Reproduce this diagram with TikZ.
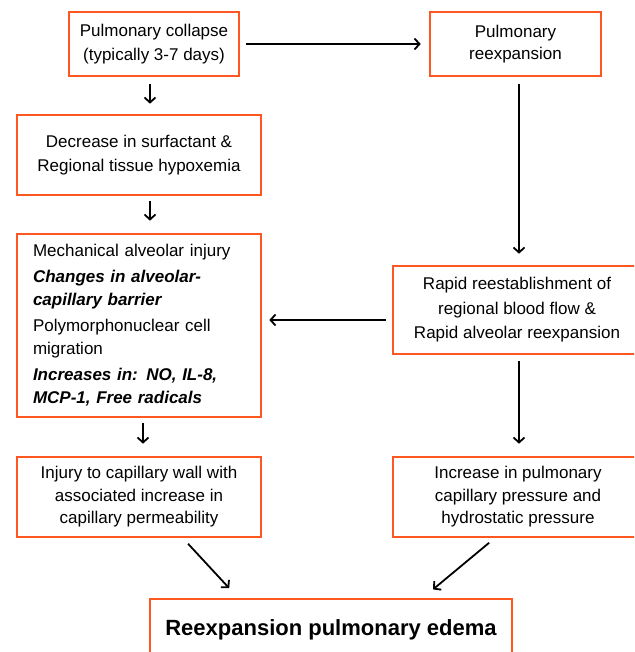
\documentclass[tikz,border=0pt]{standalone}
\usepackage{fontspec}
\setmainfont{Liberation Sans}
\usetikzlibrary{arrows.meta}
\definecolor{boxorange}{RGB}{255,87,34}

\begin{document}
\begin{tikzpicture}[x=1pt, y=-1pt,
  box/.style={draw=boxorange, line width=2.6pt, fill=white, inner sep=0pt, align=center, font=\fontsize{17}{24.5}\selectfont},
  arr/.style={-{Straight Barb[length=5pt,width=11pt]}, line width=1.8pt}]
  \clip (0,0) rectangle (634,652);
  % left column
  \node[box, minimum width=170pt, minimum height=64pt] (collapse) at (154,44) {Pulmonary collapse\\(typically 3-7 days)};
  \node[box, minimum width=244pt, minimum height=80pt] (surf) at (139,155) {Decrease in surfactant \&\\Regional tissue hypoxemia};
  \node[box, minimum width=244pt, minimum height=183pt, text width=212pt, align=left, font=\fontsize{17}{23}\selectfont] (mech) at (139,325.5) {Mechanical alveolar injury\\[3pt]
    \textbf{\textit{Changes in alveolar-}}\\\textbf{\textit{capillary barrier}}\\[3pt]
    Polymorphonuclear cell\\migration\\[3pt]
    \textbf{\textit{Increases in: NO, IL-8,}}\\\textbf{\textit{MCP-1, Free radicals}}};
  \node[box, minimum width=244pt, minimum height=80pt, font=\fontsize{17}{22.5}\selectfont] (injury) at (139,497) {Injury to capillary wall with\\associated increase in\\capillary permeability};
  % right column
  \node[box, minimum width=171pt, minimum height=64pt, font=\fontsize{17}{22}\selectfont] (reexp) at (515.5,44) {Pulmonary\\reexpansion};
  \node[box, minimum width=248pt, minimum height=88pt] (rapid) at (517,310) {Rapid reestablishment of\\regional blood flow \&\\Rapid alveolar reexpansion};
  \node[box, minimum width=250pt, minimum height=80pt, font=\fontsize{17}{22.5}\selectfont] (press) at (518,497) {Increase in pulmonary\\capillary pressure and\\hydrostatic pressure};
  % bottom
  \node[box, minimum width=362pt, minimum height=62pt, font=\fontsize{22}{26}\selectfont\bfseries] (edema) at (331,630) {Reexpansion pulmonary edema};
  % connectors
  \draw[arr, shorten <=6pt, shorten >=8pt] (collapse.east) -- (collapse.east -| reexp.west);
  \draw[arr, shorten <=7pt, shorten >=10pt] ([xshift=-4pt]collapse.south) -- ([xshift=-4pt]collapse.south |- surf.north);
  \draw[arr, shorten <=5pt, shorten >=12pt] ([xshift=11pt]surf.south) -- ([xshift=11pt]surf.south |- mech.north);
  \draw[arr, shorten <=5pt, shorten >=12pt] ([xshift=4pt]mech.south) -- ([xshift=4pt]mech.south |- injury.north);
  \draw[arr, shorten <=7pt, shorten >=11pt] ([xshift=3.5pt]reexp.south) -- ([xshift=3.5pt]reexp.south |- rapid.north);
  \draw[arr, shorten <=6pt, shorten >=12pt] ([xshift=2pt]rapid.south) -- ([xshift=2pt]rapid.south |- press.north);
  \draw[arr, shorten <=6pt, shorten >=7pt] ([yshift=-10pt]rapid.west) -- ([yshift=-10pt]rapid.west -| mech.east);
  \draw[arr, shorten <=7.5pt, shorten >=13pt] ([xshift=44pt]injury.south) -- ([xshift=-93pt]edema.north);
  \draw[arr, shorten <=7pt, shorten >=13pt] ([xshift=-23.5pt]press.south) -- ([xshift=92pt]edema.north);
\end{tikzpicture}
\end{document}
